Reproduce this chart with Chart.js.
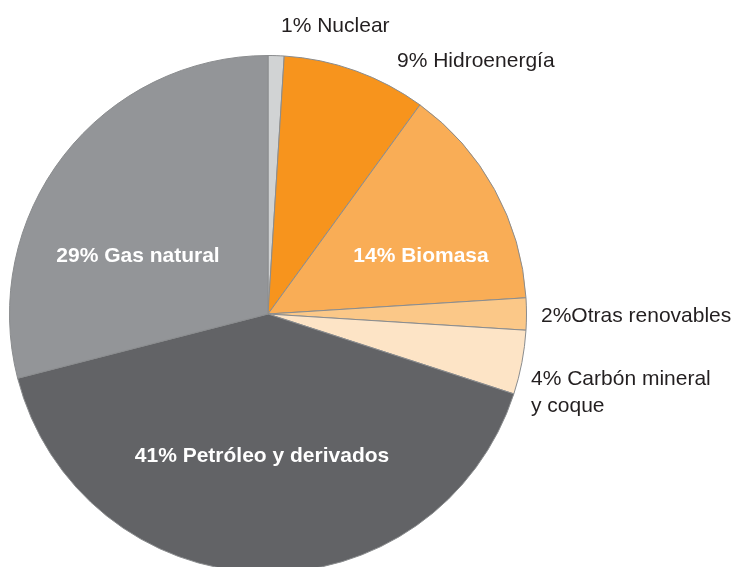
<!DOCTYPE html>
<html>
<head>
<meta charset="utf-8">
<script src="https://cdn.jsdelivr.net/npm/chart.js@4/dist/chart.umd.min.js"></script>
<style>
  html, body { margin: 0; padding: 0; background: #fff; }
  body { width: 736px; height: 567px; overflow: hidden; position: relative; }
  #wrap { position: absolute; left: 0; top: 0; width: 736px; height: 620px; }
</style>
</head>
<body>
<div id="wrap"><canvas id="matrizChart"></canvas></div>
<script>
// Matriz energética
const categories = ['Nuclear', 'Hidroenergía', 'Biomasa', 'Otras renovables', 'Carbón mineral y coque', 'Petróleo y derivados', 'Gas natural'];
const values = [1, 9, 14, 2, 4, 41, 29];
const sliceColors = ['#d1d3d4', '#f7941d', '#f9ad56', '#fbc888', '#fde4c6', '#626366', '#939598'];

// label text lines + where they sit
const labelLines = [
    ['1% Nuclear'],
    ['9% Hidroenergía'],
    ['14% Biomasa'],
    ['2%Otras renovables'],
    ['4% Carbón mineral', 'y coque'],
    ['41% Petróleo y derivados'],
    ['29% Gas natural']
];
const labelStyle = [
    { x: 281, y: 26, inside: false },
    { x: 397, y: 61, inside: false },
    { x: 421, y: 256, inside: true },
    { x: 541, y: 316, inside: false },
    { x: 531, y: 379, inside: false },
    { x: 262, y: 456, inside: true },
    { x: 138, y: 256, inside: true }
];

const labelPlugin = {
    id: 'sliceLabels',
    afterDatasetsDraw(chart) {
        const ctx = chart.ctx;
        ctx.save();
        ctx.textBaseline = 'middle';
        labelLines.forEach((lines, i) => {
            const s = labelStyle[i];
            if (s.inside) {
                ctx.font = 'bold 21px "Liberation Sans", Arial, sans-serif';
                ctx.fillStyle = '#ffffff';
                ctx.textAlign = 'center';
            } else {
                ctx.font = '21px "Liberation Sans", Arial, sans-serif';
                ctx.fillStyle = '#231f20';
                ctx.textAlign = 'left';
            }
            lines.forEach((t, k) => ctx.fillText(t, s.x, s.y + k * 27));
        });
        ctx.restore();
    }
};

new Chart(document.getElementById('matrizChart'), {
    type: 'pie',
    data: {
        labels: categories,
        datasets: [{
            data: values,
            backgroundColor: sliceColors,
            borderColor: '#8a8c8e',
            borderWidth: 1
        }]
    },
    options: {
        responsive: true,
        maintainAspectRatio: false,
        animation: false,
        layout: { padding: { left: 9, right: 209, top: 55, bottom: 47 } },
        plugins: {
            legend: { display: false },
            tooltip: { enabled: false }
        }
    },
    plugins: [labelPlugin]
});
</script>
</body>
</html>
